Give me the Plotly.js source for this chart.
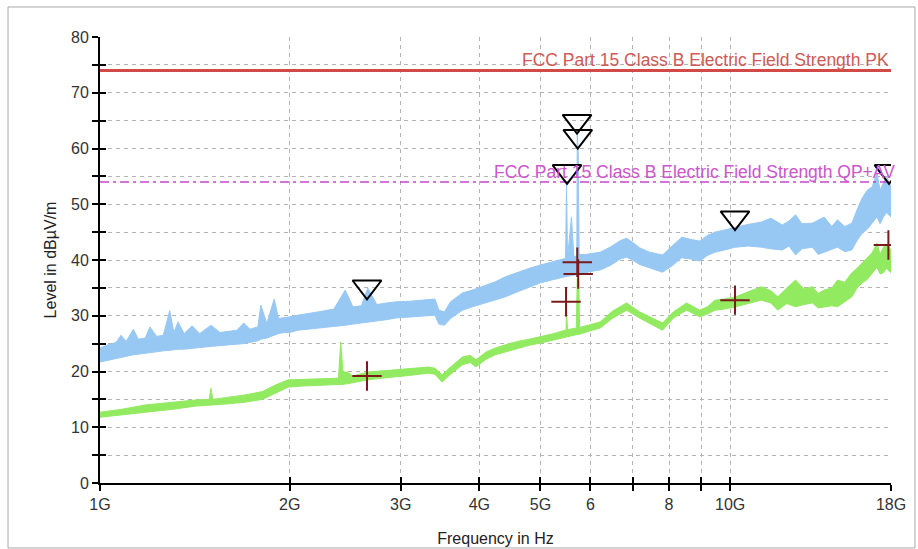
<!DOCTYPE html>
<html><head><meta charset="utf-8">
<script src="https://cdn.plot.ly/plotly-3.0.1.min.js"></script>
<style>html,body{margin:0;padding:0;background:#fff;} #chart{width:918px;height:549px;}</style>
</head><body><div id="chart"></div>
<script>
// Peak (blue) trace envelope, frequency in GHz, level in dBuV/m
const peakFreq = [1.00,1.03,1.06,1.08,1.10,1.13,1.15,1.18,1.20,1.23,1.26,1.29,1.31,1.33,1.36,1.40,1.44,1.50,1.55,1.60,1.65,1.69,1.73,1.78,1.80,1.84,1.89,1.92,1.96,2.00,2.06,2.15,2.25,2.35,2.45,2.52,2.60,2.66,2.75,2.85,2.95,3.10,3.25,3.40,3.45,3.52,3.60,3.76,3.90,4.05,4.24,4.40,4.60,4.80,5.00,5.25,5.45,5.48,5.50,5.52,5.60,5.65,5.71,5.72,5.74,5.76,5.90,6.05,6.22,6.45,6.70,6.85,7.00,7.18,7.45,7.81,8.10,8.38,8.65,8.95,9.20,9.46,9.80,10.20,10.70,11.20,11.60,12.10,12.40,12.70,13.00,13.50,13.80,14.10,14.50,14.80,15.20,15.60,15.90,16.20,16.50,16.80,17.10,17.30,17.50,17.70,18.00];
const peakLow  = [21.7,22.0,22.4,22.6,22.8,23.0,23.1,23.3,23.4,23.6,23.7,23.8,23.9,24.0,24.0,24.2,24.3,24.5,24.6,24.8,24.9,25.0,25.2,25.5,25.8,26.0,26.5,26.8,27.0,27.0,27.4,27.6,27.8,28.1,28.3,28.5,28.7,28.8,29.0,29.3,29.6,29.8,30.0,30.1,28.5,28.3,29.5,31.0,31.6,32.2,32.8,33.4,34.3,35.1,35.9,36.5,37.0,37.0,37.0,37.1,37.2,37.3,37.4,37.4,37.5,37.5,37.8,38.0,38.2,39.0,40.2,40.5,40.0,39.2,38.6,37.8,39.0,40.4,40.2,39.8,40.8,41.4,41.8,42.3,42.5,42.3,42.0,41.8,42.5,40.9,42.0,42.3,41.0,41.4,42.0,42.3,41.5,41.8,43.5,44.8,45.5,46.6,47.7,46.5,47.7,48.5,47.7];
const peakHigh = [24.2,24.8,25.2,26.5,25.4,27.6,25.8,26.0,28.0,26.3,26.5,30.9,27.0,28.9,26.8,28.2,26.8,28.3,27.0,27.2,27.4,28.7,27.6,28.0,31.9,28.6,33.0,29.5,29.6,29.8,30.1,30.4,30.8,31.2,34.6,31.6,31.8,35.0,32.0,32.3,32.5,32.6,32.8,33.0,31.0,30.7,32.5,34.1,34.6,35.3,36.1,37.0,37.8,38.5,39.1,39.8,40.3,40.3,53.5,40.4,47.7,40.6,40.7,62.5,59.5,41.0,41.0,41.2,41.4,42.3,43.5,43.9,43.2,42.2,41.4,40.9,42.6,44.1,43.7,43.4,44.4,45.0,45.4,45.9,46.4,46.8,47.5,46.3,47.0,48.1,46.5,46.6,47.2,47.7,46.0,47.2,46.0,46.6,49.0,51.1,52.5,53.1,55.6,52.5,53.8,55.0,53.1];
// Average (green) trace envelope
const avgFreq = [1.00,1.08,1.18,1.30,1.42,1.49,1.50,1.51,1.60,1.70,1.81,1.90,1.99,2.10,2.25,2.39,2.41,2.43,2.47,2.52,2.66,2.80,2.94,3.10,3.32,3.40,3.49,3.60,3.76,3.87,3.95,4.10,4.24,4.40,4.60,4.80,5.00,5.25,5.47,5.49,5.50,5.52,5.70,5.72,5.75,5.77,6.00,6.22,6.50,6.85,7.18,7.45,7.81,8.13,8.53,8.95,9.20,9.46,9.80,10.20,10.70,11.20,11.60,11.90,12.30,12.70,13.10,13.50,13.80,14.10,14.50,14.80,15.20,15.60,15.90,16.20,16.50,16.80,17.10,17.30,17.50,17.70,18.00];
const avgLow  = [11.8,12.2,12.7,13.2,13.8,13.9,14.0,14.0,14.2,14.5,15.0,16.2,17.2,17.4,17.5,17.6,17.6,17.7,17.8,18.0,18.5,18.8,19.0,19.3,19.7,19.5,18.1,19.5,21.2,21.6,20.8,22.2,23.0,23.5,24.2,24.7,25.1,25.7,26.2,26.2,26.2,26.3,26.6,26.6,26.6,26.7,27.3,27.8,29.5,31.0,29.6,28.7,27.4,29.6,31.0,29.8,30.3,31.0,31.2,31.6,32.2,32.8,32.3,31.0,32.2,31.6,32.0,32.3,31.4,31.6,31.8,31.6,32.5,33.4,35.0,35.9,36.5,37.7,38.7,37.5,37.7,38.5,37.7];
const avgHigh = [12.7,13.2,14.0,14.5,14.9,15.0,17.0,15.0,15.4,15.8,16.4,17.6,18.5,18.6,18.7,18.8,25.3,19.9,19.9,19.2,19.9,20.1,20.3,20.5,20.8,20.6,19.4,20.8,22.6,22.9,22.1,23.5,24.2,24.8,25.4,25.8,26.2,26.8,27.4,27.4,31.0,27.5,27.8,36.8,36.5,27.9,28.4,28.9,30.8,32.3,30.7,29.8,28.7,30.7,32.3,31.0,31.6,32.8,33.0,33.4,34.3,35.2,34.5,33.4,35.0,36.4,34.8,35.2,34.0,34.6,35.0,36.4,36.0,37.7,38.5,39.5,40.5,41.3,43.0,41.0,42.3,42.8,41.8];
// Limit lines
const limitFreq = [1, 18];
const limitPK = [74, 74];
const limitQPAV = [54, 54];
const limitPKLabel = 'FCC Part 15 Class B Electric Field Strength PK';
const limitQPAVLabel = 'FCC Part 15 Class B Electric Field Strength QP+AV';
// Final measurement markers
const peakMarkFreq = [2.653, 5.51, 5.715, 5.73, 10.18, 17.87];
const peakMarkLevel = [35.2, 55.9, 64.9, 62.2, 47.6, 55.9];
const avgMarkFreq = [2.653, 5.49, 5.72, 5.74, 10.18, 17.83];
const avgMarkLevel = [19.2, 32.5, 39.6, 37.5, 32.8, 42.7];
// Ticks
const xTickVals = [1,2,3,4,5,6,7,8,9,10,18];
const xTickText = ['1G','2G','3G','4G','5G','6','','8','','10G','18G'];
const yTickVals = [0,5,10,15,20,25,30,35,40,45,50,55,60,65,70,75,80];
const yTickText = ['0','','10','','20','','30','','40','','50','','60','','70','','80'];

const BLUE = '#97c8f4';
const GREEN = '#92ea60';
const FONT = 'Arial, "Liberation Sans", sans-serif';
const xr = [0, Math.log10(18)];

const traces = [
  {x: peakFreq, y: peakLow, mode:'lines', line:{color:BLUE, width:1}, hoverinfo:'skip', showlegend:false},
  {x: peakFreq, y: peakHigh, mode:'lines', line:{color:BLUE, width:1}, fill:'tonexty', fillcolor:BLUE, hoverinfo:'skip', showlegend:false},
  {x: avgFreq, y: avgLow, mode:'lines', line:{color:GREEN, width:1}, hoverinfo:'skip', showlegend:false},
  {x: avgFreq, y: avgHigh, mode:'lines', line:{color:GREEN, width:1}, fill:'tonexty', fillcolor:GREEN, hoverinfo:'skip', showlegend:false},
  {x: limitFreq, y: limitPK, xaxis:'x2', yaxis:'y2', mode:'lines', line:{color:'#d24a48', width:3}, showlegend:false},
  {x: limitFreq, y: limitQPAV, xaxis:'x2', yaxis:'y2', mode:'lines', line:{color:'#cc44cc', width:1.5, dash:'9px,4px,3px,4px'}, showlegend:false},
  {x: peakMarkFreq, y: peakMarkLevel, xaxis:'x2', yaxis:'y2', mode:'markers', marker:{symbol:'triangle-down-open', size:25, color:'#000', line:{width:2, color:'#000'}}, showlegend:false},
  {x: avgMarkFreq, y: avgMarkLevel, xaxis:'x2', yaxis:'y2', mode:'markers', marker:{symbol:'cross-thin-open', size:21, color:'#7a1a1a', line:{width:2, color:'#7a1a1a'}}, showlegend:false}
];

const gridCol = '#b4b4b4';
const layout = {
  width: 918, height: 549,
  margin: {l:100, r:27, t:37, b:66},
  paper_bgcolor:'#fff', plot_bgcolor:'#fff',
  showlegend:false,
  font:{family:FONT, size:16, color:'#333'},
  xaxis: {
    type:'log', range:xr, tickmode:'array', tickvals:xTickVals, ticktext:xTickText,
    ticks:'outside', ticklen:6, tickwidth:2, tickcolor:'#000',
    showline:true, linecolor:'#000', linewidth:2,
    showgrid:true, gridcolor:gridCol, gridwidth:1, griddash:'4px,4px', zeroline:false,
    tickfont:{family:FONT, size:16, color:'#333'},
    title:{text:'Frequency in Hz', font:{family:FONT, size:16, color:'#222'}, standoff:21},
    automargin:false, fixedrange:true
  },
  yaxis: {
    range:[0,80], tickmode:'array', tickvals:yTickVals, ticktext:yTickText,
    ticks:'outside', ticklen:6, tickwidth:2, tickcolor:'#000',
    showline:true, linecolor:'#000', linewidth:2,
    showgrid:true, gridcolor:gridCol, gridwidth:1, griddash:'4px,4px', zeroline:false,
    tickfont:{family:FONT, size:16, color:'#333'},
    title:{text:'Level in dBµV/m', font:{family:FONT, size:16, color:'#222'}, standoff:10},
    automargin:false, fixedrange:true
  },
  xaxis2: {
    type:'log', range:xr, overlaying:'x', anchor:'y2', side:'bottom',
    tickmode:'array', tickvals:xTickVals, ticktext:xTickText, showticklabels:false,
    ticks:'inside', ticklen:6, tickwidth:2, tickcolor:'#000',
    showline:false, showgrid:false, zeroline:false, fixedrange:true
  },
  yaxis2: {
    range:[0,80], overlaying:'y', anchor:'x2', side:'left',
    tickmode:'array', tickvals:yTickVals, ticktext:yTickText, showticklabels:false,
    ticks:'inside', ticklen:6, tickwidth:2, tickcolor:'#000',
    showline:false, showgrid:false, zeroline:false, fixedrange:true
  },
  annotations: [
    {xref:'x', yref:'y', x:Math.log10(18), y:limitPK[0], xanchor:'right', yanchor:'bottom', yshift:-2,
     text:limitPKLabel, showarrow:false, font:{family:FONT, size:17.5, color:'#d05a55'}},
    {xref:'paper', yref:'y', x:1.0076, y:limitQPAV[0], xanchor:'right', yanchor:'bottom', yshift:-2,
     text:limitQPAVLabel, showarrow:false, font:{family:FONT, size:17.5, color:'#cc55cc'}}
  ],
  shapes: [
    {type:'rect', xref:'paper', yref:'paper', x0:-0.1163, x1:1.0303, y0:-0.1457, y1:1.0673,
     line:{color:'#a8a8a8', width:1}, fillcolor:'rgba(0,0,0,0)'}
  ]
};

Plotly.newPlot('chart', traces, layout, {staticPlot:true, displayModeBar:false});
</script></body></html>
